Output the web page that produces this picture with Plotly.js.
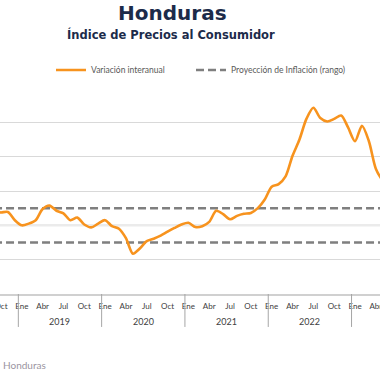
<!DOCTYPE html>
<html>
<head>
<meta charset="utf-8">
<script src="https://cdn.plot.ly/plotly-3.0.1.min.js"></script>
<style>
  html, body { margin: 0; padding: 0; background: #ffffff; }
  #chart { width: 380px; height: 380px; }
</style>
</head>
<body>
<div id="chart"></div>
<script>
// Monthly periods (Sep 2018 - Jun 2023)
const periods = [
  '2018-09','2018-10','2018-11','2018-12',
  '2019-01','2019-02','2019-03','2019-04','2019-05','2019-06','2019-07','2019-08','2019-09','2019-10','2019-11','2019-12',
  '2020-01','2020-02','2020-03','2020-04','2020-05','2020-06','2020-07','2020-08','2020-09','2020-10','2020-11','2020-12',
  '2021-01','2021-02','2021-03','2021-04','2021-05','2021-06','2021-07','2021-08','2021-09','2021-10','2021-11','2021-12',
  '2022-01','2022-02','2022-03','2022-04','2022-05','2022-06','2022-07','2022-08','2022-09','2022-10','2022-11','2022-12',
  '2023-01','2023-02','2023-03','2023-04','2023-05','2023-06'
];
// Variación interanual (%)
const inflation = [
  4.80, 4.75, 4.78, 4.30,
  4.00, 4.10, 4.30, 4.95, 5.15, 4.85, 4.70, 4.30, 4.45, 4.05, 3.88, 4.10,
  4.30, 3.95, 3.80, 3.25, 2.35, 2.65, 3.08, 3.22, 3.40, 3.63, 3.85, 4.05,
  4.15, 3.90, 3.95, 4.20, 4.85, 4.65, 4.35, 4.55, 4.67, 4.72, 5.00, 5.50,
  6.25, 6.40, 6.85, 8.05, 9.00, 10.20, 10.85, 10.25, 10.05, 10.20, 10.40, 9.70,
  8.90, 9.80, 8.90, 7.30, 6.60, 6.20
];
// Proyección de inflación (rango) and central value
const rangeLow = 3;
const rangeHigh = 5;
const rangeMid = 4;
const monthNames = ['Ene','Feb','Mar','Abr','May','Jun','Jul','Ago','Sep','Oct','Nov','Dic'];
const quarterMonths = ['01','04','07','10'];
const years = ['2019','2020','2021','2022','2023'];

const tickvals = periods.filter(p => quarterMonths.includes(p.slice(5)));
const ticktext = tickvals.map(p => monthNames[parseInt(p.slice(5), 10) - 1]);
const janIndex = y => periods.indexOf(y + '-01');

const traces = [
  { x: periods, y: periods.map(() => rangeMid), type: 'scatter', mode: 'lines',
    line: { color: '#ebebeb', width: 2.5 }, showlegend: false, hoverinfo: 'skip' },
  { x: periods, y: periods.map(() => rangeLow), type: 'scatter', mode: 'lines',
    name: 'Proyección de Inflación (rango)', legendgroup: 'proj', legend: 'legend2',
    line: { color: '#7f7f7f', width: 2.5, dash: '8px,4px' }, showlegend: true },
  { x: periods, y: periods.map(() => rangeHigh), type: 'scatter', mode: 'lines',
    name: 'Proyección de Inflación (rango)', legendgroup: 'proj',
    line: { color: '#7f7f7f', width: 2.5, dash: '8px,4px' }, showlegend: false },
  { x: periods, y: inflation, type: 'scatter', mode: 'lines',
    name: 'Variación interanual', legend: 'legend',
    line: { color: '#F7931E', width: 2.6, shape: 'spline', smoothing: 0.8 } }
];

const shapes = years.map(y => ({
  type: 'line', xref: 'x', yref: 'paper',
  x0: janIndex(y) - 0.5, x1: janIndex(y) - 0.5, y0: 0, y1: -0.16,
  line: { color: '#a6a6a6', width: 1 }
}));

const annotations = years.map(y => ({
  xref: 'x', yref: 'paper', x: janIndex(y) + 5.5, y: -0.134,
  text: y, showarrow: false, xanchor: 'center', yanchor: 'middle',
  font: { family: 'Lato, sans-serif', size: 9, color: '#404040' }
}));
annotations.push(
  { xref: 'paper', yref: 'paper', x: 172/380, y: (294-13)/206, text: '<b>Honduras</b>',
    showarrow: false, xanchor: 'center', yanchor: 'middle',
    font: { family: 'DejaVu Sans, sans-serif', size: 20, color: '#1c2b4a' } },
  { xref: 'paper', yref: 'paper', x: 171/380, y: (294-35)/206, text: '<b>Índice de Precios al Consumidor</b>',
    showarrow: false, xanchor: 'center', yanchor: 'middle',
    font: { family: 'DejaVu Sans, sans-serif', size: 11.5, color: '#1c2b4a' } },
  { xref: 'paper', yref: 'paper', x: 0, y: (294-365)/206, text: 'Honduras',
    showarrow: false, xanchor: 'left', yanchor: 'middle', xshift: 1,
    font: { family: 'Lato, sans-serif', size: 10, color: '#9a94a0' } }
);

const legendFont = { family: 'Lato, sans-serif', size: 8.5, color: '#595959' };

const layout = {
  width: 380, height: 380,
  margin: { l: 0, r: 0, t: 88, b: 86, pad: 0 },
  paper_bgcolor: '#ffffff', plot_bgcolor: '#ffffff',
  showlegend: true,
  legend: {
    orientation: 'h', x: 51/380, xanchor: 'left', y: (294-70)/206, yanchor: 'middle',
    font: legendFont, bgcolor: 'rgba(0,0,0,0)'
  },
  legend2: {
    orientation: 'h', x: 191/380, xanchor: 'left', y: (294-70)/206, yanchor: 'middle',
    font: legendFont, bgcolor: 'rgba(0,0,0,0)'
  },
  xaxis: {
    type: 'category', range: [janIndex('2019') - 3.14, janIndex('2019') + 51.6],
    tickvals: tickvals, ticktext: ticktext, ticks: '', showgrid: false,
    showline: true, linecolor: '#d0d0d0', linewidth: 2, ticklabelstandoff: 3,
    tickfont: { family: 'Lato, sans-serif', size: 8, color: '#404040' },
    zeroline: false, fixedrange: true
  },
  yaxis: {
    range: [0, 12], dtick: 2, showticklabels: false, ticks: '',
    showgrid: true, gridcolor: '#d9d9d9', gridwidth: 1, zeroline: false, fixedrange: true
  },
  shapes: shapes,
  annotations: annotations
};

Plotly.newPlot('chart', traces, layout, { displayModeBar: false, staticPlot: true });
</script>
</body>
</html>
